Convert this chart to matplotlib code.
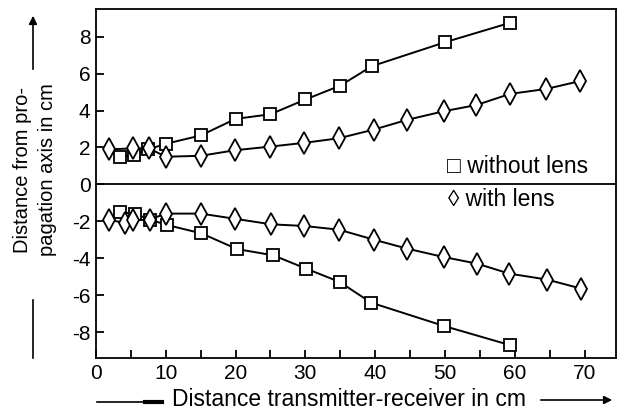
import numpy as np
import matplotlib
matplotlib.use("Agg")
import matplotlib.pyplot as plt

plt.rcParams["font.family"] = "Liberation Sans"
plt.rcParams["font.size"] = 15

# ----------------------------
# Data
# ----------------------------
x_sq_up = [3.5, 5.5, 7.5, 10, 15, 20, 25, 30, 35, 39.5, 50, 59.3]
y_sq_up = [1.5, 1.6, 1.9, 2.2, 2.65, 3.55, 3.8, 4.6, 5.35, 6.4, 7.7, 8.75]

x_di_up = [1.8, 5.3, 7.6, 10, 15, 19.9, 25, 29.8, 34.8, 39.8, 44.6, 49.8, 54.5, 59.3, 64.5, 69.4]
y_di_up = [1.9, 1.95, 1.95, 1.5, 1.55, 1.85, 2.05, 2.25, 2.5, 2.97, 3.5, 3.96, 4.3, 4.9, 5.17, 5.6]

x_sq_lo = [3.5, 5.6, 7.7, 10.2, 15.1, 20.2, 25.4, 30.1, 34.9, 39.4, 49.8, 59.3]
y_sq_lo = [-1.5, -1.6, -1.9, -2.2, -2.65, -3.5, -3.84, -4.56, -5.28, -6.4, -7.66, -8.7]

x_di_lo = [1.8, 4.2, 5.3, 7.7, 10, 15, 19.9, 25.1, 29.8, 34.8, 39.8, 44.6, 49.8, 54.6, 59.2, 64.6, 69.5]
y_di_lo = [-1.9, -2.1, -1.95, -1.9, -1.58, -1.58, -1.86, -2.16, -2.25, -2.45, -2.99, -3.48,
           -3.93, -4.29, -4.83, -5.15, -5.64]

x_ticks = [0, 10, 20, 30, 40, 50, 60, 70]
y_ticks = [-8, -6, -4, -2, 0, 2, 4, 6, 8]


def fx(px):
    return px / 620


def fy(py):
    return 1 - py / 412


fig = plt.figure(figsize=(6.2, 4.12), dpi=100)
ax = fig.add_axes([fx(96), fy(358), fx(616 - 96), (358 - 9) / 412])

line_kw = dict(color="black", linewidth=1.4, markerfacecolor="white",
               markeredgecolor="black", markeredgewidth=1.3)

ax.plot(x_sq_up, y_sq_up, marker="s", markersize=8, **line_kw)
ax.plot(x_sq_lo, y_sq_lo, marker="s", markersize=8, **line_kw)
ax.plot(x_di_up, y_di_up, marker="d", markersize=11, **line_kw)
ax.plot(x_di_lo, y_di_lo, marker="d", markersize=11, **line_kw)

ax.axhline(0, color="black", linewidth=1.3)

ax.set_xlim(0, 74.5)
ax.set_ylim(-9.4, 9.5)
ax.set_xticks(x_ticks)
ax.set_xticks(np.arange(5, 75, 10), minor=True)
ax.set_yticks(y_ticks)
ax.set_yticklabels([str(v) for v in y_ticks])
ax.tick_params(axis="both", which="both", direction="in", length=6, width=1.3, pad=4)
for s in ax.spines.values():
    s.set_linewidth(1.3)

# legend-like labels
ax.text(50.3, 0.97, "\u25a1 without lens", fontsize=16.5, va="center", ha="left")
ax.text(50.5, -0.81, "\u25ca with lens", fontsize=16.5, va="center", ha="left")

# axis labels with arrows
fig.text(fx(349), fy(400), "Distance transmitter-receiver in cm",
         fontsize=16.5, ha="center", va="center")
fig.text(fx(35), fy(170), "Distance from pro-\npagation axis in cm",
         fontsize=14.5, ha="center", va="center", rotation=90, linespacing=1.45)

fig.add_artist(plt.Line2D([fx(97), fx(162)], [fy(402), fy(402)],
                          color="black", linewidth=1.2))
fig.add_artist(plt.Line2D([fx(145), fx(162)], [fy(402), fy(402)],
                          color="black", linewidth=3.0))
ax.annotate("", xy=(fx(615), fy(400)), xytext=(fx(538), fy(400)),
            xycoords="figure fraction",
            arrowprops=dict(arrowstyle="-|>", color="black", lw=1.2, mutation_scale=12))
ax.annotate("", xy=(fx(33), fy(13)), xytext=(fx(33), fy(72)),
            xycoords="figure fraction",
            arrowprops=dict(arrowstyle="-|>", color="black", lw=1.2, mutation_scale=12))
fig.add_artist(plt.Line2D([fx(33), fx(33)], [fy(300), fy(358)],
                          color="black", linewidth=1.2))

fig.savefig("out.png", dpi=100)
